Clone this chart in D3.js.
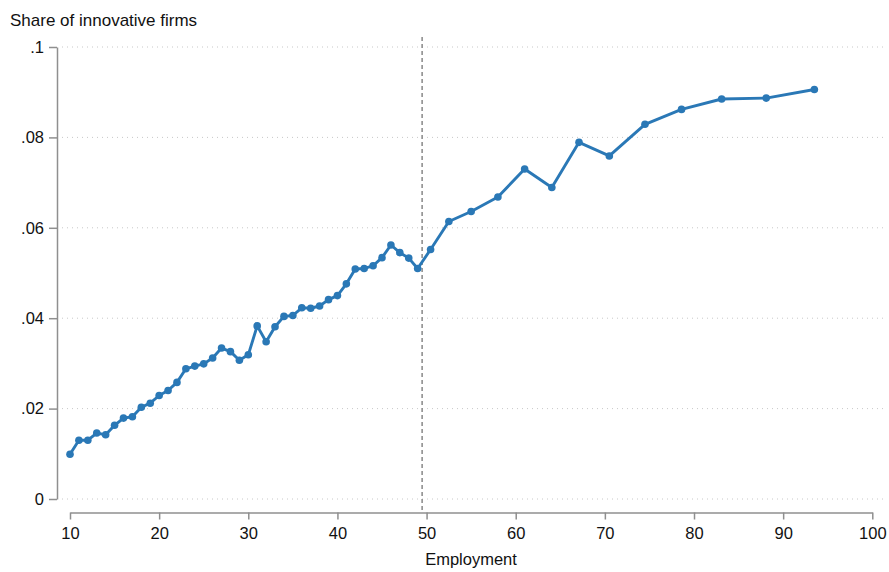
<!DOCTYPE html>
<html><head><meta charset="utf-8">
<script src="https://cdn.jsdelivr.net/npm/d3@7"></script>
<style>body{margin:0;background:#fff;} text{font-family:"Liberation Sans",Arial,sans-serif;}</style>
</head><body>
<svg id="c" width="889" height="572"></svg>
<script>
const employment = [10,11,12,13,14,15,16,17,18,19,20,21,22,23,24,25,26,27,28,29,30,31,32,33,34,35,36,37,38,39,40,41,42,43,44,45,46,47,48,49,
  50.45,52.5,55,58,61,64.05,67.1,70.5,74.5,78.6,83.1,88.1,93.5];
const share = [0.0099,0.0130,0.0130,0.0146,0.0142,0.0163,0.0179,0.0182,0.0203,0.0212,0.0229,0.0240,0.0258,0.0288,0.0294,0.0299,0.0312,0.0334,0.0326,0.0307,0.0319,0.0383,0.0348,0.0381,0.0404,0.0406,0.0423,0.0422,0.0427,0.0441,0.0450,0.0476,0.0509,0.0510,0.0516,0.0534,0.0562,0.0545,0.0533,0.0510,
  0.0552,0.0614,0.0636,0.0668,0.0730,0.0689,0.0789,0.0759,0.0829,0.0862,0.0885,0.0887,0.0906];
const xTicks = [10,20,30,40,50,60,70,80,90,100];
const yTicks = [0,0.02,0.04,0.06,0.08,0.1];
const yTickLabels = ["0",".02",".04",".06",".08",".1"];
const threshold = 49.5;

const svg = d3.select("#c");
const x = d3.scaleLinear().domain([10,100]).range([70,872.3]);
const y = d3.scaleLinear().domain([0,0.1]).range([499,47]);
const axisColor = "#8f8f8f";
const fs = "16.5px";

// gridlines
svg.append("g").selectAll("line").data(yTicks).join("line")
  .attr("x1",62).attr("x2",884)
  .attr("y1",d=>y(d)).attr("y2",d=>y(d))
  .attr("stroke","#c8c8c8").attr("stroke-width",1).attr("stroke-dasharray","1,4");

// y axis
const yAxis = d3.axisLeft(y).tickValues(yTicks).tickFormat((d,i)=>yTickLabels[i]).tickSize(8).tickSizeOuter(0).tickPadding(5);
const gy = svg.append("g").attr("transform","translate(57,0)").call(yAxis);
gy.attr("font-size",null).attr("font-family",null);
gy.select(".domain").attr("stroke",axisColor).attr("stroke-width",1.5);
gy.selectAll(".tick line").attr("stroke",axisColor).attr("stroke-width",1.5);
gy.selectAll(".tick text").attr("fill","#111").style("font-size",fs);

// x axis
const xAxis = d3.axisBottom(x).tickValues(xTicks).tickSize(7).tickSizeOuter(0).tickPadding(8);
const gx = svg.append("g").attr("transform","translate(0,512.5)").call(xAxis);
gx.attr("font-size",null).attr("font-family",null);
gx.select(".domain").attr("stroke",axisColor).attr("stroke-width",1.5);
gx.selectAll(".tick line").attr("stroke",axisColor).attr("stroke-width",1.5);
gx.selectAll(".tick text").attr("fill","#111").style("font-size",fs);

// threshold line
svg.append("line").attr("x1",x(threshold)).attr("x2",x(threshold))
  .attr("y1",37).attr("y2",512)
  .attr("stroke","#888").attr("stroke-width",1.5).attr("stroke-dasharray","4,3");

// data line
const data = employment.map((e,i)=>({e, s:share[i]}));
const col = "#2a78b6";
svg.append("path").datum(data)
  .attr("fill","none").attr("stroke",col).attr("stroke-width",2.9).attr("stroke-linejoin","round")
  .attr("d", d3.line().x(d=>x(d.e)).y(d=>y(d.s)));
svg.append("g").selectAll("circle").data(data).join("circle")
  .attr("cx",d=>x(d.e)).attr("cy",d=>y(d.s)).attr("r",3.8).attr("fill",col);

// titles
svg.append("text").attr("x",10).attr("y",26).attr("fill","#111").style("font-size","17px").text("Share of innovative firms");
svg.append("text").attr("x",471).attr("y",565).attr("text-anchor","middle").attr("fill","#111").style("font-size",fs).text("Employment");
</script>
</body></html>
